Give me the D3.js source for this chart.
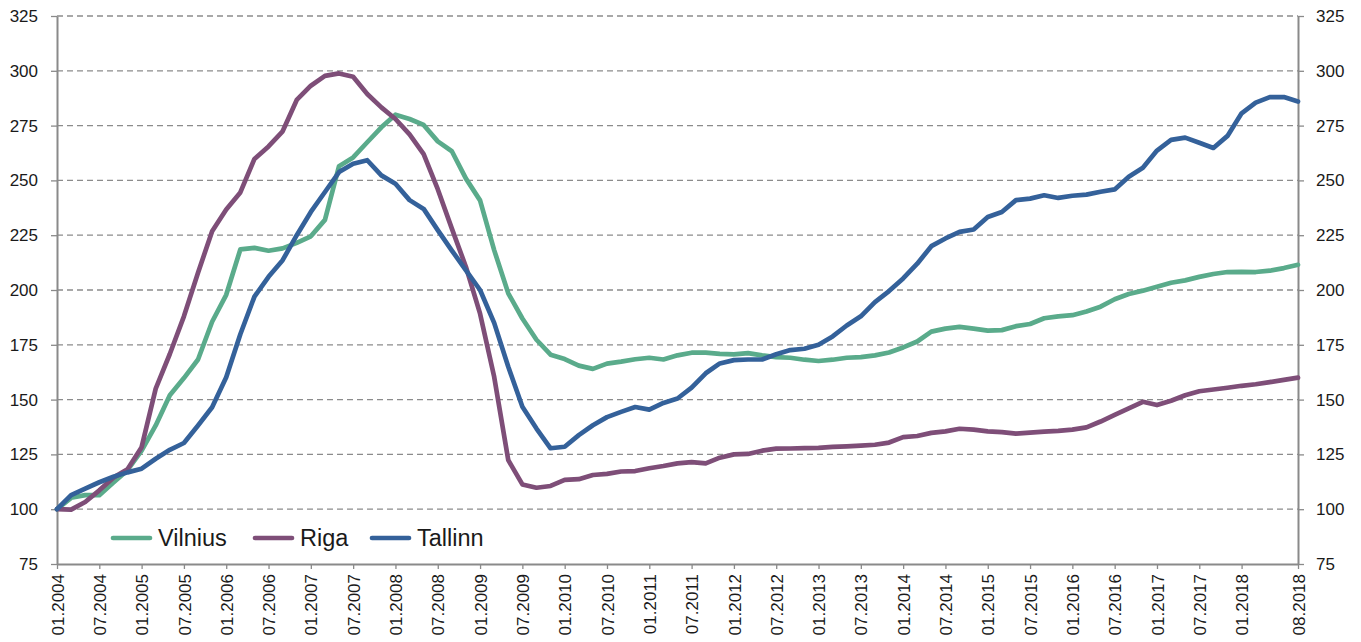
<!DOCTYPE html>
<html>
<head>
<meta charset="utf-8">
<script src="https://cdn.jsdelivr.net/npm/d3@7"></script>
<style>
  body { margin: 0; background: #fff; }
  svg text { font-family: "Liberation Sans", Arial, sans-serif; fill: #1a1a1a; }
</style>
</head>
<body>
<div id="chart"></div>
<script>
// months since 01.2004, sampled every 2 months
const months = d3.range(0, 177, 2);

const vilnius = [100, 105.2, 106.4, 106.4, 112.2, 117.8, 126.7, 138.2, 152, 159.8,
  168.3, 185.5, 197.8, 218.5, 219.2, 217.9, 219, 221.5, 224.5, 232,
  256.5, 260.5, 267.4, 274.2, 280, 278, 275.3, 267.8, 263.3, 250.8,
  240.9, 218.2, 198.5, 187, 177.3, 170.5, 168.5, 165.5, 164, 166.4,
  167.3, 168.4, 169.1, 168.3, 170.2, 171.4, 171.4, 170.9, 170.6, 171.2,
  170.2, 169.4, 169.1, 168.2, 167.6, 168.2, 169.1, 169.4, 170.2, 171.5,
  173.8, 176.5, 181, 182.4, 183.2, 182.4, 181.5, 181.7, 183.5, 184.5,
  187.1, 188, 188.5, 190.2, 192.4, 195.8, 198.2, 199.7, 201.5, 203.3,
  204.4, 206, 207.3, 208.2, 208.3, 208.2, 208.8, 210, 211.5];

const riga = [100, 99.8, 103.3, 108.6, 114.4, 118.2, 128.3, 155, 170.8, 188,
  207.9, 226.8, 236.7, 244.5, 259.8, 265.5, 272.4, 286.7, 293.2, 297.7,
  298.8, 297.3, 289.4, 283.3, 278, 271, 262, 246, 228, 210.5,
  189.2, 160.4, 122.4, 111.3, 109.8, 110.6, 113.4, 113.7, 115.6, 116.1,
  117.2, 117.4, 118.7, 119.7, 120.9, 121.5, 120.9, 123.5, 125, 125.2,
  126.7, 127.6, 127.7, 127.9, 128, 128.4, 128.7, 129, 129.4, 130.4,
  132.9, 133.4, 134.8, 135.5, 136.7, 136.3, 135.5, 135.2, 134.5, 134.9,
  135.4, 135.7, 136.3, 137.3, 140, 143, 146, 149, 147.5, 149.5,
  152, 153.8, 154.6, 155.4, 156.3, 157, 158, 159, 160];

const tallinn = [100, 106.4, 109.4, 112.3, 114.8, 116.8, 118.5, 123, 127.1, 130.2,
  138.2, 146.5, 160.2, 179.8, 197, 206, 213.6, 225, 235.6, 244.7,
  253.8, 257.6, 259.2, 252.3, 248.5, 241, 237, 227.3, 218, 209,
  200, 185, 165, 146.7, 136.8, 127.8, 128.5, 133.8, 138.3, 142,
  144.4, 146.6, 145.4, 148.5, 150.5, 155.5, 162, 166.5, 168, 168.3,
  168.3, 170.7, 172.6, 173.2, 175, 178.8, 183.8, 188, 194.5, 199.5,
  205.3, 212, 220, 223.5, 226.5, 227.6, 233.3, 235.6, 241, 241.7,
  243.2, 242, 243, 243.5, 244.8, 245.9, 251.7, 255.8, 263.6, 268.5,
  269.5, 267.2, 264.8, 270.3, 280.6, 285.5, 288, 288, 286];

const seriesNames = ["Vilnius", "Riga", "Tallinn"];
const seriesColors = ["#5aab8b", "#7e4e78", "#34619a"];

const yTicks = [75, 100, 125, 150, 175, 200, 225, 250, 275, 300, 325];
const xTickMonths = [0, 6, 12, 18, 24, 30, 36, 42, 48, 54, 60, 66, 72, 78, 84, 90, 96, 102,
  108, 114, 120, 126, 132, 138, 144, 150, 156, 162, 168, 176];
const xTickLabels = ["01.2004", "07.2004", "01.2005", "07.2005", "01.2006", "07.2006",
  "01.2007", "07.2007", "01.2008", "07.2008", "01.2009", "07.2009", "01.2010", "07.2010",
  "01.2011", "07.2011", "01.2012", "07.2012", "01.2013", "07.2013", "01.2014", "07.2014",
  "01.2015", "07.2015", "01.2016", "07.2016", "01.2017", "07.2017", "01.2018", "08.2018"];

const W = 1361, H = 642;
const margin = {top: 16, right: 63, bottom: 78, left: 57};
const width = W - margin.left - margin.right,
      height = H - margin.top - margin.bottom;

const svg = d3.select("#chart").append("svg")
    .attr("width", W).attr("height", H);
const g = svg.append("g")
    .attr("transform", "translate(" + margin.left + "," + margin.top + ")");

const x = d3.scaleLinear().domain([0, 176]).range([0, width]);
const y = d3.scaleLinear().domain([75, 325]).range([height, 0]);

// dashed gridlines
g.selectAll(".grid")
  .data(yTicks.slice(1))
  .enter().append("line")
    .attr("class", "grid")
    .attr("x1", 0).attr("x2", width)
    .attr("y1", d => y(d)).attr("y2", d => y(d))
    .attr("stroke", "#8c8c8c")
    .attr("stroke-width", 1.3)
    .attr("stroke-dasharray", "6,4");

// axes
const fmt = d3.format("d");
const yLeft = g.append("g")
    .call(d3.axisLeft(y).tickValues(yTicks).tickSize(6).tickSizeOuter(0).tickPadding(13).tickFormat(fmt));
const yRight = g.append("g")
    .attr("transform", "translate(" + width + ",0)")
    .call(d3.axisRight(y).tickValues(yTicks).tickSize(6).tickSizeOuter(0).tickPadding(12).tickFormat(fmt));
const xAxis = g.append("g")
    .attr("transform", "translate(0," + height + ")")
    .call(d3.axisBottom(x).tickValues(xTickMonths).tickSize(5).tickSizeOuter(0)
      .tickFormat((d, i) => xTickLabels[i]));

xAxis.selectAll("text")
    .attr("transform", "rotate(-90)")
    .attr("x", -10).attr("y", 0).attr("dy", "0.36em")
    .style("text-anchor", "end");

[yLeft, yRight, xAxis].forEach(a => {
  a.select(".domain").attr("stroke", "#8a8a8a").attr("stroke-width", 2);
  a.selectAll(".tick line").attr("stroke", "#8a8a8a").attr("stroke-width", 1.3);
  a.selectAll("text").style("font-size", "17px").attr("fill", "#1a1a1a");
});

// lines
const line = d3.line()
    .x((d, i) => x(months[i]))
    .y(d => y(d));

[vilnius, riga, tallinn].forEach((s, k) => {
  g.append("path")
    .datum(s)
    .attr("fill", "none")
    .attr("stroke", seriesColors[k])
    .attr("stroke-width", 4.7)
    .attr("stroke-linejoin", "round")
    .attr("stroke-linecap", "round")
    .attr("d", line);
});

// legend
const legendX = [113, 255, 372];
const legY = 538 - margin.top;
seriesNames.forEach((name, k) => {
  const lx = legendX[k] - margin.left;
  g.append("line")
    .attr("x1", lx).attr("x2", lx + 37)
    .attr("y1", legY).attr("y2", legY)
    .attr("stroke", seriesColors[k])
    .attr("stroke-width", 4.7)
    .attr("stroke-linecap", "round");
  g.append("text")
    .attr("x", lx + 45).attr("y", legY)
    .attr("dy", "0.36em")
    .style("font-size", "23.5px")
    .text(name);
});
</script>
</body>
</html>
